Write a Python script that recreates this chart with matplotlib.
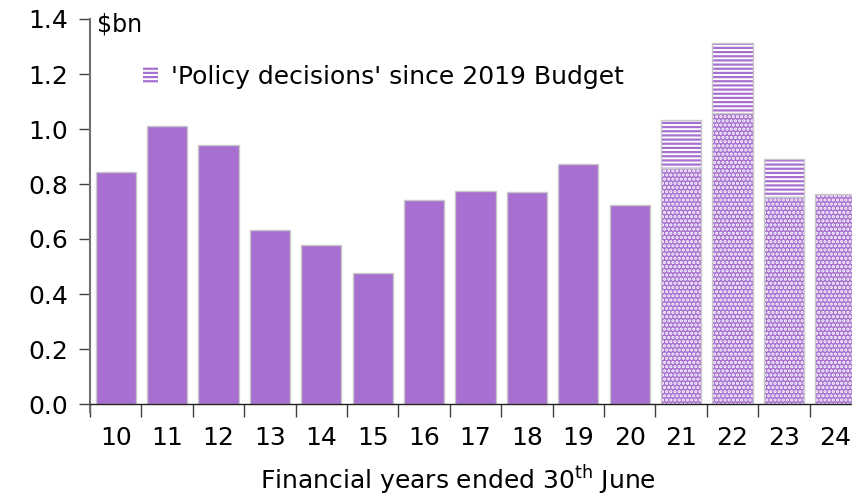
import matplotlib.pyplot as plt
import numpy as np
from matplotlib.patches import Patch

# financial years (ended 30 June) and values, $bn
years = ['10', '11', '12', '13', '14', '15', '16', '17', '18', '19', '20',
         '21', '22', '23', '24']
actual = [0.844, 1.011, 0.942, 0.633, 0.578, 0.476, 0.742, 0.775, 0.771,
          0.873, 0.724]
projected = [0.859, 1.059, 0.753, 0.764]
policy = [0.174, 0.253, 0.139, 0.0]

purple = '#a66fd0'
edge = '#c8c8c8'

plt.rcParams['font.family'] = ['DejaVu Sans']
plt.rcParams['mathtext.fontset'] = 'dejavusans'
plt.rcParams['hatch.linewidth'] = 1.6

fig = plt.figure(figsize=(8.52, 4.98), dpi=100)
ax = fig.add_axes([90 / 852, 1 - 404 / 498, 771 / 852, 385 / 498])

x = np.arange(len(years))
w = 0.78
n_act = len(actual)
xa = x[:n_act]
xp = x[n_act:]

ax.bar(xa, actual, width=w, color=purple, edgecolor=edge, linewidth=1)

# projected years: dotted base
ax.bar(xp, projected, width=w, color=purple, edgecolor='white', hatch='....',
       linewidth=0)
ax.bar(xp, projected, width=w, fill=False, edgecolor=edge, linewidth=1)

# policy decisions on top, striped
pol_x = [xi for xi, p in zip(xp, policy) if p > 0]
pol_v = [p for p in policy if p > 0]
pol_b = [b for b, p in zip(projected, policy) if p > 0]
ax.bar(pol_x, pol_v, bottom=pol_b, width=w, color='white', edgecolor=purple,
       hatch='----', linewidth=0)
ax.bar(pol_x, pol_v, bottom=pol_b, width=w, fill=False, edgecolor=edge,
       linewidth=1)

ax.set_xlim(-0.5, len(years) - 0.5)
ax.set_ylim(0, 1.4)
ax.set_yticks(np.arange(0, 1.41, 0.2))
ax.set_yticklabels(['%.1f' % v for v in np.arange(0, 1.41, 0.2)])

ax.set_xticks(x)
ax.set_xticklabels(years)
ax.set_xticks(np.arange(-0.5, len(years), 1.0), minor=True)
ax.tick_params(axis='x', which='major', length=0, pad=16, labelsize=18)
ax.tick_params(axis='x', which='minor', length=9, direction='out',
               width=1, color='#404040')
ax.tick_params(axis='y', length=8, direction='out', width=1,
               color='#404040', labelsize=18, pad=8)

for s in ['top', 'right']:
    ax.spines[s].set_visible(False)
ax.spines['left'].set_color('#707070')
ax.spines['left'].set_linewidth(1.5)
ax.spines['left'].set_bounds(-0.03, 1.4)
ax.spines['bottom'].set_color('#202020')
ax.spines['bottom'].set_linewidth(1)

ax.set_xlabel('Financial years ended 30$^{\\mathrm{th}}$ June', fontsize=18)
ax.xaxis.set_label_coords(0.477, -0.155)

ax.text(0.009, 0.985, '$bn', transform=ax.transAxes, fontsize=17,
        va='center', ha='left')

handle = Patch(facecolor='white', edgecolor=purple, hatch='----',
               linewidth=0)
ax.legend([handle], ["'Policy decisions' since 2019 Budget"],
          loc='upper left', bbox_to_anchor=(0.04, 0.94), frameon=False,
          fontsize=18, handlelength=0.6, handleheight=0.7, handletextpad=0.5)

fig.savefig('out.png', dpi=100)
